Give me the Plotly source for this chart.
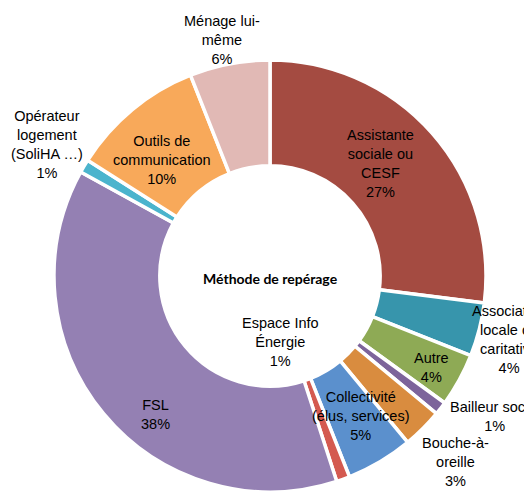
import plotly.graph_objects as go

# Données
categories = ["Assistante sociale ou CESF", "Association locale ou caritative", "Autre",
              "Bailleur social", "Bouche-à-oreille", "Collectivité (élus, services)",
              "Espace Info Énergie", "FSL", "Opérateur logement (SoliHA …)",
              "Outils de communication", "Ménage lui-même"]
values = [27, 4, 4, 1, 3, 5, 1, 38, 1, 10, 6]
display_names = ["Assistante<br>sociale ou<br>CESF", "Association<br>locale ou<br>caritative", "Autre",
                 "Bailleur social", "Bouche-à-<br>oreille", "Collectivité<br>(élus, services)",
                 "Espace Info<br>Énergie", "FSL", "Opérateur<br>logement<br>(SoliHA …)",
                 "Outils de<br>communication", "Ménage lui-<br>même"]
colors = ["#A44B41", "#3795AC", "#8EAA55", "#7D649B", "#D98C3F", "#5B90CD",
          "#D45A50", "#9480B3", "#4BB4CD", "#F8A95A", "#E1B9B5"]
center_title = "Méthode de repérage"

W, H = 524, 492

# position des étiquettes (pixels depuis le coin haut-gauche)
label_pos = [(380, 164), (509, 339), (431, 367), (494, 416), (455, 462), (361, 416),
             (280, 342), (155, 414), (47, 145), (162, 160), (222, 40)]

fig = go.Figure()

fig.add_trace(go.Pie(labels=categories,
                     values=values,
                     hole=0.51,
                     sort=False,
                     direction="clockwise",
                     rotation=0,
                     textinfo="none",
                     hoverinfo="label+percent",
                     marker=dict(colors=colors,
                                 line=dict(color="white", width=3.5)),
                     domain=dict(x=[54/W, 486/W], y=[0, 432/H]),
                     showlegend=False))

total = sum(values)
for name, v, (px, py) in zip(display_names, values, label_pos):
    fig.add_annotation(x=px/W, y=1 - py/H, xref="paper", yref="paper",
                       text=f"{name}<br>{round(100*v/total)}%",
                       showarrow=False, xanchor="center", yanchor="middle",
                       font=dict(family="Liberation Sans, Arial", size=14.5, color="black"))

fig.add_annotation(x=270/W, y=1 - 278/H, xref="paper", yref="paper",
                   text=f"<b>{center_title}</b>", showarrow=False,
                   font=dict(family="Lato", size=14, color="black"))

fig.update_layout(width=W, height=H,
                  margin=dict(l=0, r=0, t=0, b=0),
                  paper_bgcolor="white",
                  plot_bgcolor="white")

fig.write_html("out.html",
               config={"displayModeBar": False},
               post_script="document.body.style.margin='0';document.body.style.overflow='hidden';")
